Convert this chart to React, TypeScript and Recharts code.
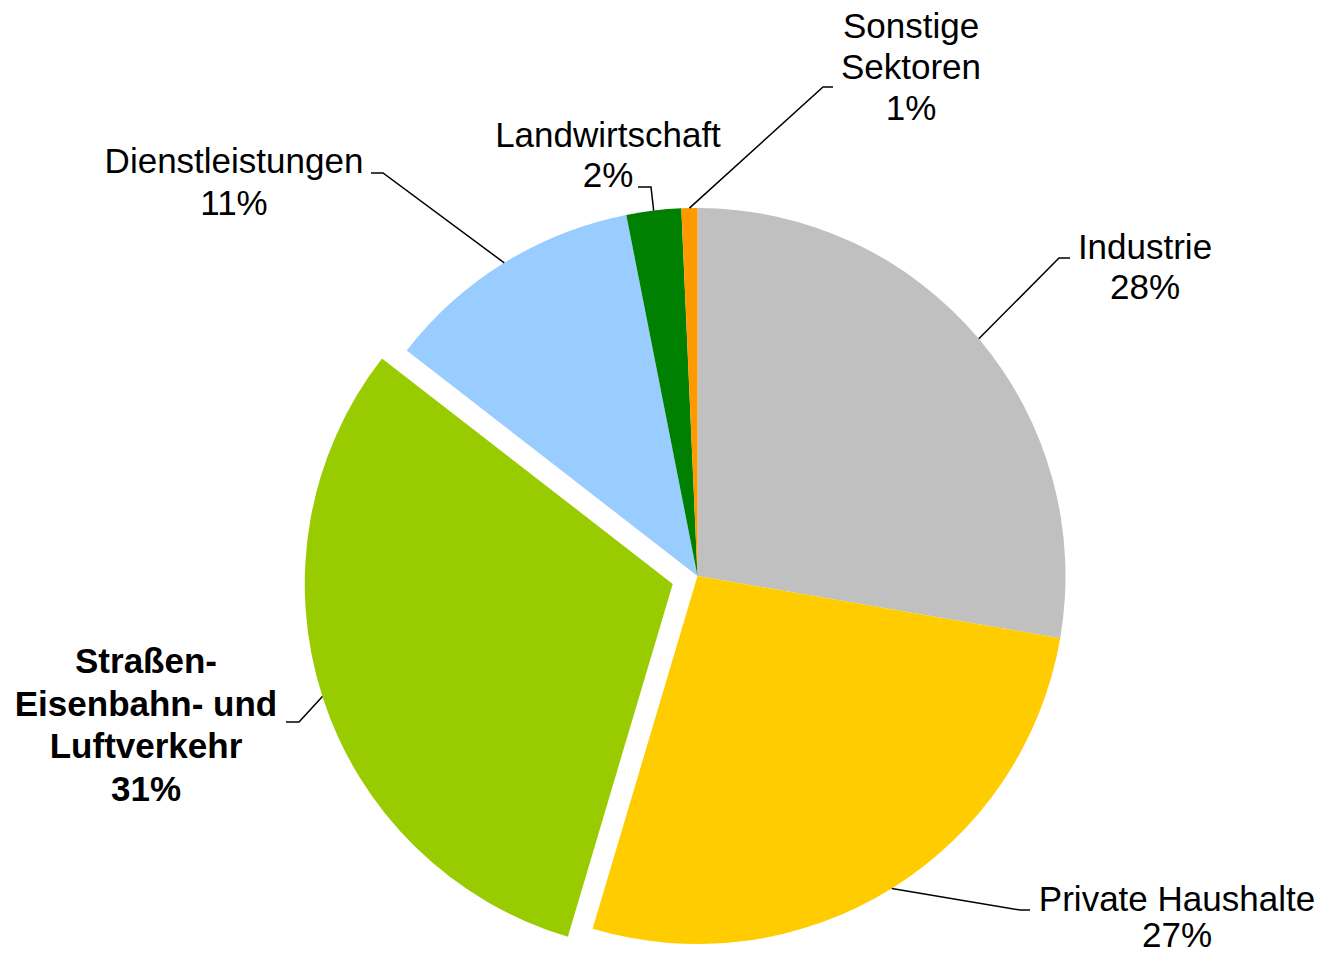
import { PieChart, Pie, Cell } from "recharts"

const CATEGORIES = ["Industrie", "Private Haushalte", "Straßen- Eisenbahn- und Luftverkehr", "Dienstleistungen", "Landwirtschaft", "Sonstige Sektoren"]
const VALUES = [27.7, 26.9, 30.9, 11.4, 2.4, 0.7]
const PERCENT_LABELS = ["28%", "27%", "31%", "11%", "2%", "1%"]
const LABEL_LINES = [
  ["Industrie"],
  ["Private Haushalte"],
  ["Straßen-", "Eisenbahn- und", "Luftverkehr"],
  ["Dienstleistungen"],
  ["Landwirtschaft"],
  ["Sonstige", "Sektoren"],
]

const COLORS = ["#C0C0C0", "#FFCC00", "#99CC00", "#99CCFF", "#008000", "#FF9900"]
const EXPLODED = 2

// label placement (layout only)
const LABEL_LAYOUT = [
  { elbow: [1059, 258], end: [1070, 258], x: 1145, y: 259, lh: 40, bold: false },
  { elbow: [1020, 910], end: [1030, 910], x: 1177, y: 911, lh: 36, bold: false },
  { elbow: [299, 722], end: [286, 722], x: 146, y: 673, lh: 42.7, bold: true },
  { elbow: [383, 173], end: [371, 173], x: 234, y: 173, lh: 42, bold: false },
  { elbow: [651, 187], end: [638, 187], x: 608, y: 147, lh: 40, bold: false },
  { elbow: [823, 87], end: [833, 87], x: 911, y: 38, lh: 41, bold: false },
]

const W = 1321
const H = 956
const CX = 697.5
const CY = 576
const R = 368
const EXPLODE_DIST = 26
const RAD = Math.PI / 180

const data = CATEGORIES.map((name, i) => ({ name, value: VALUES[i] }))

const total = VALUES.reduce((a, b) => a + b, 0)
const before = VALUES.slice(0, EXPLODED).reduce((a, b) => a + b, 0)
const midFrac = (before + VALUES[EXPLODED] / 2) / total
const midDeg = 90 - 360 * midFrac
const CX2 = CX + EXPLODE_DIST * Math.cos(midDeg * RAD)
const CY2 = CY - EXPLODE_DIST * Math.sin(midDeg * RAD)

const FONT = "'Liberation Sans', Arial, Helvetica, sans-serif"

function makeLabel(show: (i: number) => boolean) {
  return (props: any) => {
    const { cx, cy, midAngle, outerRadius, index } = props
    if (!show(index)) return <g />
    const sx = cx + outerRadius * Math.cos(-midAngle * RAD)
    const sy = cy + outerRadius * Math.sin(-midAngle * RAD)
    const l = LABEL_LAYOUT[index]
    const lines = [...LABEL_LINES[index], PERCENT_LABELS[index]]
    return (
      <g>
        <polyline
          points={`${sx},${sy} ${l.elbow[0]},${l.elbow[1]} ${l.end[0]},${l.end[1]}`}
          fill="none"
          stroke="#000"
          strokeWidth={1.5}
        />
        <text
          x={l.x}
          y={l.y}
          textAnchor="middle"
          fill="#000"
          fontFamily={FONT}
          fontSize={35}
          fontWeight={l.bold ? "bold" : "normal"}
          style={{ whiteSpace: "pre" }}
        >
          {lines.map((t, k) => (
            <tspan key={k} x={l.x} y={l.y + k * l.lh}>
              {t}
            </tspan>
          ))}
        </text>
      </g>
    )
  }
}

export default function App() {
  return (
    <div style={{ position: "absolute", left: 0, top: 0, width: W, height: H, background: "#fff" }}>
      <PieChart width={W} height={H} margin={{ top: 0, right: 0, bottom: 0, left: 0 }}>
        <Pie
          data={data}
          dataKey="value"
          cx={CX}
          cy={CY}
          outerRadius={R}
          startAngle={90}
          endAngle={-270}
          stroke="none"
          labelLine={false}
          label={makeLabel((i) => i !== EXPLODED)}
          isAnimationActive={false}
        >
          {data.map((d, i) => (
            <Cell key={d.name} fill={i === EXPLODED ? "transparent" : COLORS[i]} stroke="none" />
          ))}
        </Pie>
        <Pie
          data={data}
          dataKey="value"
          cx={CX2}
          cy={CY2}
          outerRadius={R}
          startAngle={90}
          endAngle={-270}
          stroke="none"
          labelLine={false}
          label={makeLabel((i) => i === EXPLODED)}
          isAnimationActive={false}
        >
          {data.map((d, i) => (
            <Cell key={d.name} fill={i === EXPLODED ? COLORS[i] : "transparent"} stroke="none" />
          ))}
        </Pie>
      </PieChart>
    </div>
  )
}
